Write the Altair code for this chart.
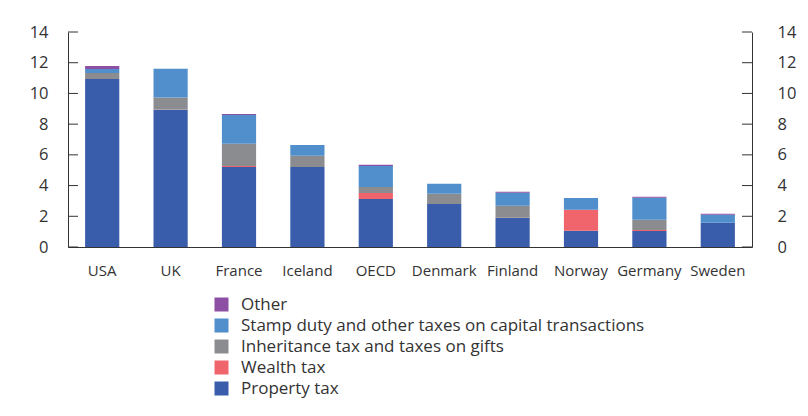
import altair as alt
import pandas as pd

countries = ["USA", "UK", "France", "Iceland", "OECD", "Denmark", "Finland", "Norway", "Germany", "Sweden"]
property_tax = [10.94, 8.93, 5.21, 5.21, 3.12, 2.80, 1.89, 1.06, 1.04, 1.58]
wealth_tax = [0.0, 0.02, 0.07, 0.0, 0.39, 0.0, 0.02, 1.37, 0.06, 0.0]
inheritance_tax = [0.39, 0.78, 1.45, 0.74, 0.39, 0.67, 0.78, 0.0, 0.68, 0.0]
stamp_duty = [0.26, 1.87, 1.86, 0.69, 1.38, 0.65, 0.85, 0.76, 1.43, 0.52]
other = [0.19, 0.0, 0.07, 0.0, 0.07, 0.0, 0.06, 0.0, 0.06, 0.07]

series_names = ["Property tax", "Wealth tax", "Inheritance tax and taxes on gifts",
                "Stamp duty and other taxes on capital transactions", "Other"]
series_values = [property_tax, wealth_tax, inheritance_tax, stamp_duty, other]
series_colors = ["#3a5dab", "#f0646b", "#8b8c8f", "#508fcc", "#8d4fa3"]
tick_values = [0, 2, 4, 6, 8, 10, 12, 14]

rows = []
for i, c in enumerate(countries):
    for k, (name, vals) in enumerate(zip(series_names, series_values)):
        rows.append({"country": c, "type": name, "value": vals[i], "order": k})
df = pd.DataFrame(rows)
ticks_df = pd.DataFrame({"v": tick_values})

legend_order = list(reversed(series_names))
legend_colors = list(reversed(series_colors))

FONT = "Open Sans"
AXC = "#333333"
TXC = "#333333"

bars = alt.Chart(df).mark_bar().encode(
    x=alt.X("country:N", sort=countries,
            scale=alt.Scale(paddingInner=0.5, paddingOuter=0.25),
            axis=alt.Axis(title=None, labelAngle=0, ticks=False, domainColor=AXC,
                          labelFontSize=15, labelPadding=16, labelColor=TXC, labelFont=FONT)),
    y=alt.Y("value:Q", stack="zero", scale=alt.Scale(domain=[0, 14]),
            axis=alt.Axis(title=None, orient="left", values=tick_values, ticks=False, grid=False,
                          domainColor=AXC, labelFontSize=16.5, labelPadding=20, labelColor=TXC,
                          labelFont=FONT)),
    color=alt.Color("type:N", scale=alt.Scale(domain=legend_order, range=legend_colors),
                    legend=alt.Legend(title=None, orient="none", legendX=145, legendY=264,
                                      symbolType="square", symbolSize=196, labelFontSize=17,
                                      labelFont=FONT, labelColor=TXC, rowPadding=3,
                                      labelOffset=11, symbolStrokeWidth=0, labelLimit=0)),
    order=alt.Order("order:Q", sort="ascending"),
)

left_ticks = alt.Chart(ticks_df).mark_rule(color=AXC).encode(
    y=alt.Y("v:Q", axis=None),
    x=alt.value(0), x2=alt.value(10),
)

right_ticks = alt.Chart(ticks_df).mark_rule(color=AXC).encode(
    y=alt.Y("v:Q", axis=alt.Axis(title=None, orient="right", values=tick_values, ticks=False,
                                 grid=False, domainColor=AXC, labelFontSize=16.5, labelPadding=25,
                                 labelColor=TXC, labelFont=FONT)),
    x=alt.value(674), x2=alt.value(684),
)

chart = alt.layer(bars, left_ticks, right_ticks).resolve_axis(y="independent").properties(
    width=684, height=215,
    autosize=alt.AutoSizeParams(type="none"),
    padding={"left": 60, "top": 24, "right": 48, "bottom": 161},
).configure_view(stroke=None)

chart.save("out.html", embed_options={"renderer": "svg", "actions": False})
